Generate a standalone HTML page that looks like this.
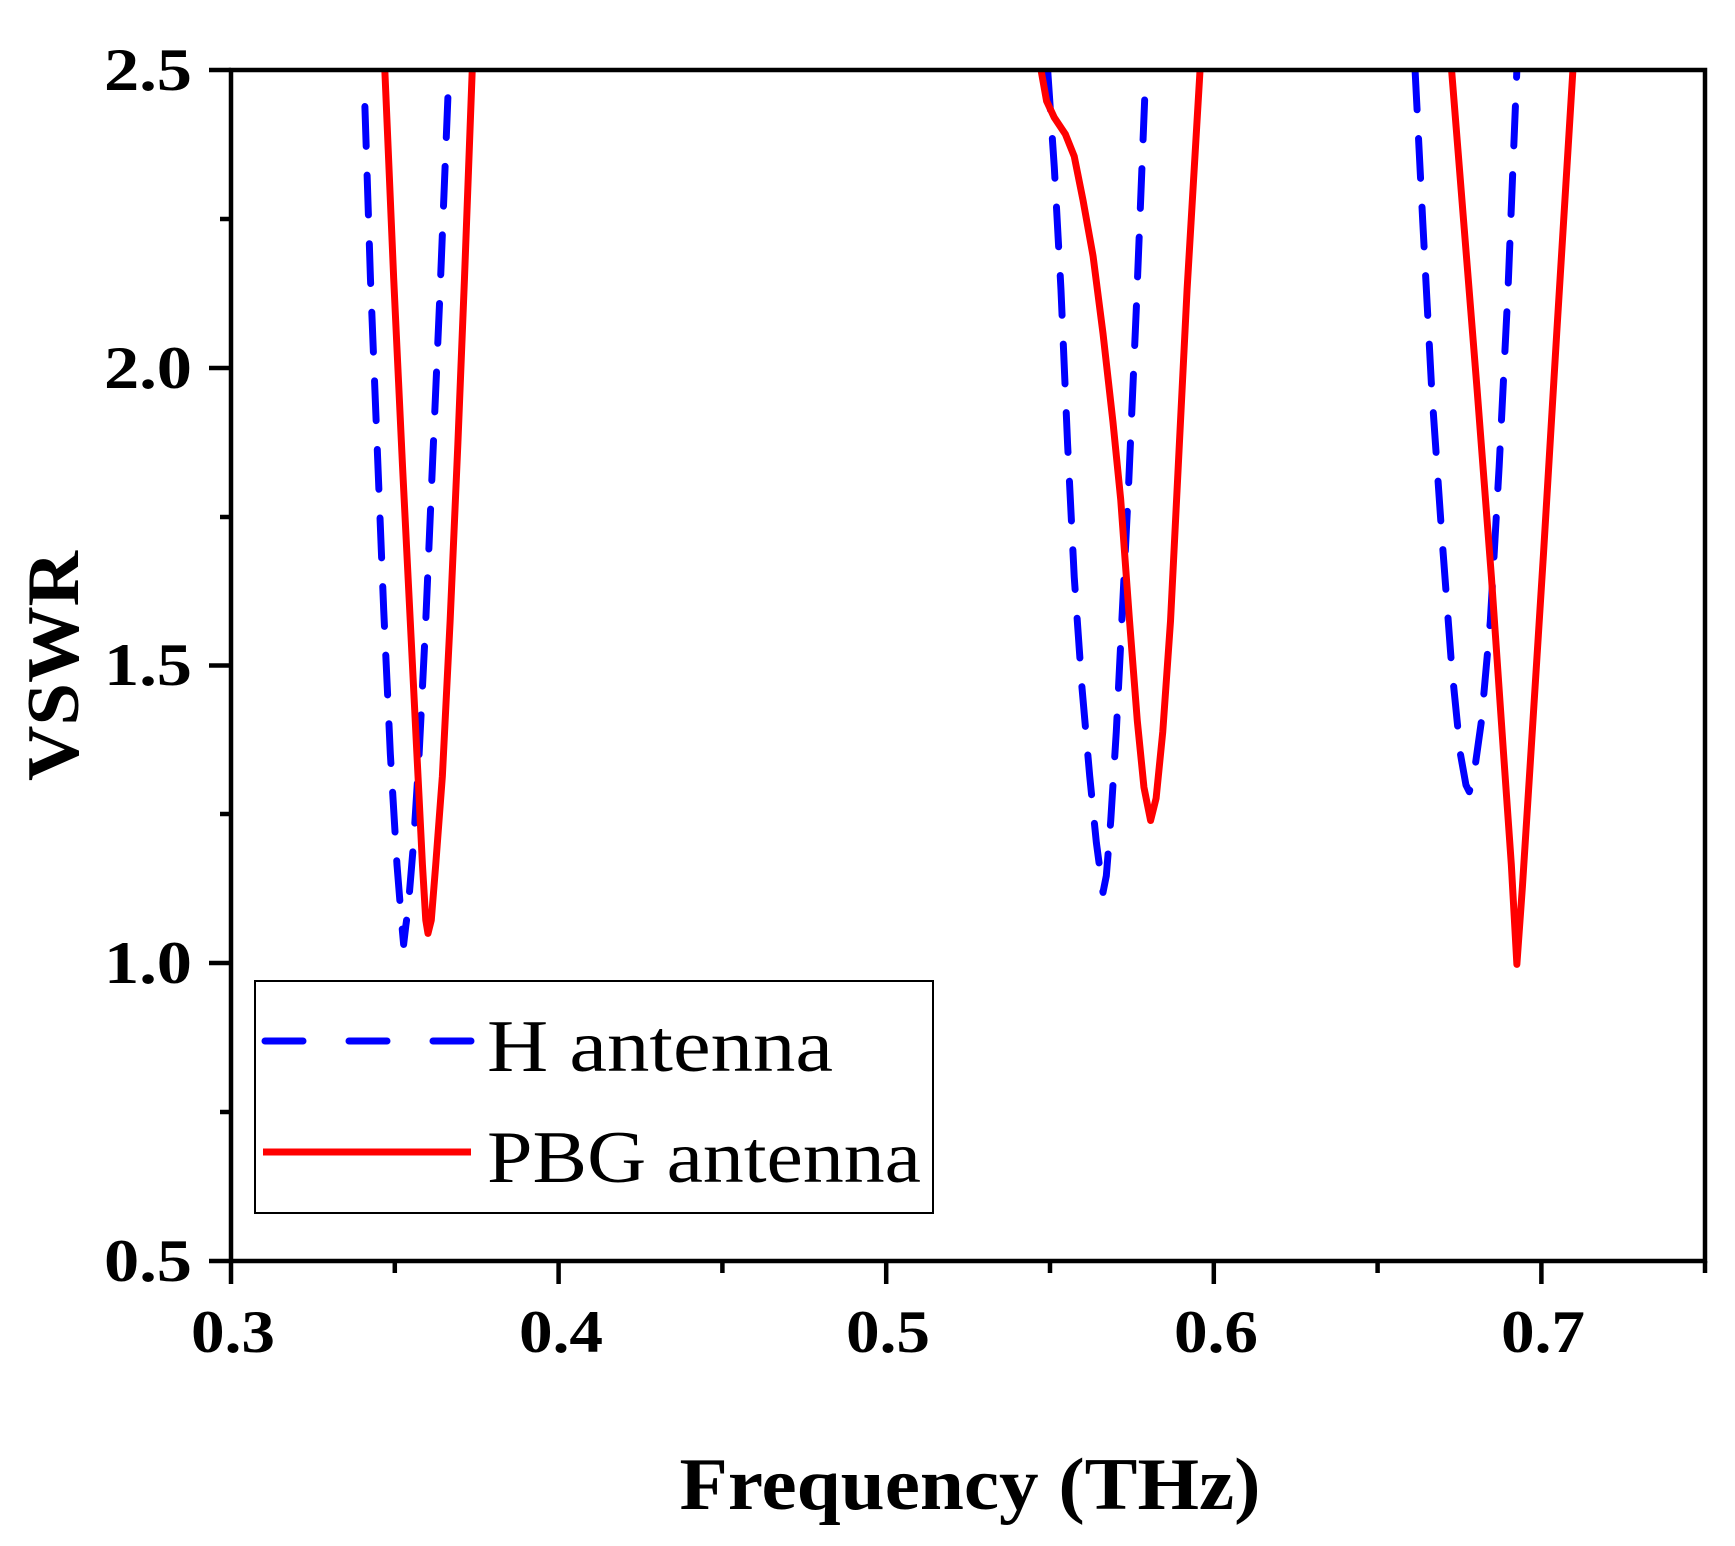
<!DOCTYPE html>
<html><head><meta charset="utf-8"><style>
html,body{margin:0;padding:0;background:#fff;}
svg{display:block;}
</style></head><body>
<svg width="1735" height="1546" viewBox="0 0 1735 1546" xmlns="http://www.w3.org/2000/svg">
<defs><clipPath id="c"><rect x="231" y="70" width="1474" height="1191"/></clipPath></defs>
<g clip-path="url(#c)">
<g transform="translate(231,70) scale(1.1066,1.1069) translate(-208,-62)" fill="none" stroke-linejoin="round">
<g stroke="#0000ff" stroke-width="6.3" stroke-dasharray="36 26" stroke-linecap="round">
<polyline points="329,95 334,250 340,400 346,550 352,680 358,780 362,830 364,852 366,835 368,820 373,760 378,680 384,560 390,420 397,260 405,62"/>
<polyline points="946,62 952,150 958,260 964,400 970,520 977,620 984,700 990,760 996,805 999,790 1003,740 1008,660 1013,560 1019,440 1026,280 1034,80"/>
<polyline points="1278,62 1285,200 1293,350 1302,480 1311,600 1319,680 1324,708 1327,714 1331,700 1338,650 1346,560 1354,420 1362,260 1370,62"/>
</g>
<g stroke="#ff0000" stroke-width="6.3">
<polyline points="347,62 355,250 363,420 370,560 376,680 381,780 384,830 386,842 389,830 393,780 399,700 406,560 413,400 419,250 426,62"/>
<polyline points="940,62 945,90 952,105 962,120 970,140 978,180 987,230 996,300 1005,380 1012,450 1020,560 1027,650 1033,710 1039,740 1044,720 1050,660 1057,560 1064,420 1072,260 1085,40"/>
<polyline points="1311,62 1322,200 1334,350 1347,520 1358,680 1365,780 1370,870 1375,800 1382,690 1394,500 1406,300 1422,40"/>
</g>
</g>
</g>
<rect x="231" y="70" width="1474" height="1191" fill="none" stroke="#000" stroke-width="4.5"/>
<g stroke="#000" stroke-width="4.5">
<line x1="209" y1="70" x2="231" y2="70"/><line x1="209" y1="368" x2="231" y2="368"/><line x1="209" y1="665.5" x2="231" y2="665.5"/><line x1="209" y1="963" x2="231" y2="963"/><line x1="209" y1="1261" x2="231" y2="1261"/>
<line x1="220" y1="219" x2="231" y2="219"/><line x1="220" y1="517" x2="231" y2="517"/><line x1="220" y1="814" x2="231" y2="814"/><line x1="220" y1="1112" x2="231" y2="1112"/>
<line x1="231" y1="1261" x2="231" y2="1284"/><line x1="558.6" y1="1261" x2="558.6" y2="1284"/><line x1="886.2" y1="1261" x2="886.2" y2="1284"/><line x1="1213.8" y1="1261" x2="1213.8" y2="1284"/><line x1="1541.4" y1="1261" x2="1541.4" y2="1284"/>
<line x1="394.8" y1="1261" x2="394.8" y2="1273"/><line x1="722.4" y1="1261" x2="722.4" y2="1273"/><line x1="1050" y1="1261" x2="1050" y2="1273"/><line x1="1377.6" y1="1261" x2="1377.6" y2="1273"/><line x1="1705" y1="1261" x2="1705" y2="1273"/>
</g>
<g font-family="Liberation Serif, serif" font-weight="bold" font-size="60" fill="#000">
<g text-anchor="end">
<text x="192" y="90" textLength="88" lengthAdjust="spacingAndGlyphs">2.5</text>
<text x="192" y="388" textLength="88" lengthAdjust="spacingAndGlyphs">2.0</text>
<text x="192" y="685" textLength="88" lengthAdjust="spacingAndGlyphs">1.5</text>
<text x="192" y="983" textLength="88" lengthAdjust="spacingAndGlyphs">1.0</text>
<text x="192" y="1281" textLength="88" lengthAdjust="spacingAndGlyphs">0.5</text>
</g>
<g text-anchor="middle">
<text x="233" y="1352" textLength="84" lengthAdjust="spacingAndGlyphs">0.3</text>
<text x="561" y="1352" textLength="84" lengthAdjust="spacingAndGlyphs">0.4</text>
<text x="888" y="1352" textLength="84" lengthAdjust="spacingAndGlyphs">0.5</text>
<text x="1216" y="1352" textLength="84" lengthAdjust="spacingAndGlyphs">0.6</text>
<text x="1543" y="1352" textLength="84" lengthAdjust="spacingAndGlyphs">0.7</text>
</g>
<text x="970" y="1509" text-anchor="middle" font-size="74" textLength="581" lengthAdjust="spacingAndGlyphs">Frequency (THz)</text>
<text transform="translate(78,666) rotate(-90)" text-anchor="middle" font-size="74" textLength="230" lengthAdjust="spacingAndGlyphs">VSWR</text>
</g>
<rect x="255" y="981" width="678" height="232" fill="#fff" stroke="#000" stroke-width="2"/>
<line x1="265" y1="1041" x2="471" y2="1041" stroke="#0000ff" stroke-width="7" stroke-dasharray="38 46" stroke-linecap="round"/>
<line x1="263" y1="1152" x2="471" y2="1152" stroke="#ff0000" stroke-width="7"/>
<g font-family="Liberation Serif, serif" font-size="74" fill="#000">
<text x="487" y="1071" textLength="346" lengthAdjust="spacingAndGlyphs">H antenna</text>
<text x="487" y="1182" textLength="434" lengthAdjust="spacingAndGlyphs">PBG antenna</text>
</g>
</svg>
</body></html>
